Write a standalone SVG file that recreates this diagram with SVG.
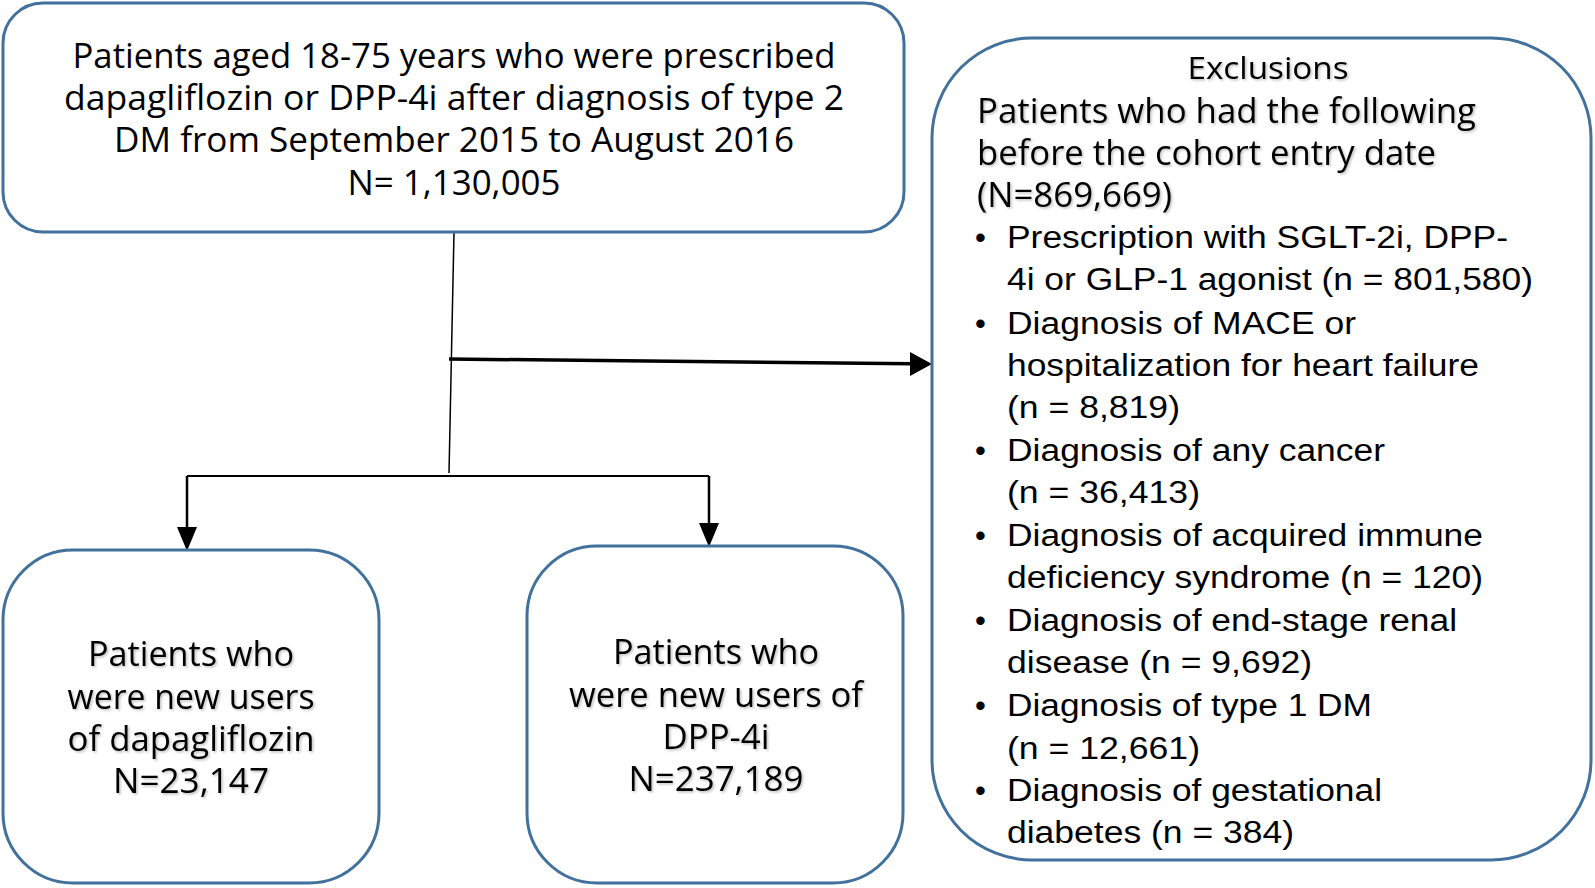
<svg xmlns="http://www.w3.org/2000/svg" width="1595" height="888" viewBox="0 0 1595 888">
<style>
.box{fill:#fff;stroke:#41719c;stroke-width:3}
.t{font-family:"Open Sans","Noto Sans",sans-serif;font-size:34px;fill:#000}
.b{font-family:"Liberation Sans",Arial,sans-serif;font-size:31px;fill:#000}
.c{text-anchor:middle}
.sh{filter:url(#shadow)}
.ln{stroke:#000;fill:none}
</style>
<defs>
<filter id="shadow" x="-5%" y="-20%" width="110%" height="140%">
<feDropShadow dx="1.5" dy="1.5" stdDeviation="1" flood-color="#000" flood-opacity="0.25"/>
</filter>
</defs>

<g id="connectors">
<line class="ln" x1="454" y1="232" x2="449" y2="473" stroke-width="1.5"/>
<line class="ln" x1="449" y1="359" x2="912" y2="363.8" stroke-width="3.5"/>
<path d="M910,352 L932,364 L910,376 z" fill="#000"/>
<line class="ln" x1="187" y1="476" x2="709" y2="476" stroke-width="2"/>
<path d="M187,476 V528" class="ln" stroke-width="2.5"/>
<path d="M177,527 L197,527 L187,551 z" fill="#000"/>
<path d="M709,476 V524" class="ln" stroke-width="2.5"/>
<path d="M699,523 L719,523 L709,547 z" fill="#000"/>
</g>

<g id="node-top">
<rect class="box" x="3" y="3" width="901" height="229" rx="40"/>
<text class="t c" x="454" y="68" textLength="763" lengthAdjust="spacingAndGlyphs">Patients aged 18-75 years who were prescribed</text>
<text class="t c" x="454" y="110" textLength="780" lengthAdjust="spacingAndGlyphs">dapagliflozin or DPP-4i after diagnosis of type 2</text>
<text class="t c" x="454" y="152" textLength="680" lengthAdjust="spacingAndGlyphs">DM from September 2015 to August 2016</text>
<text class="t c" x="454" y="195" textLength="213" lengthAdjust="spacingAndGlyphs">N= 1,130,005</text>
</g>

<g id="node-exclusions">
<rect class="box" x="932" y="38" width="659" height="822" rx="100"/>
<g class="sh">
<text class="t c" x="1268" y="79" style="font-size:31px" textLength="161" lengthAdjust="spacingAndGlyphs">Exclusions</text>
<text class="t" x="977" y="123" textLength="499" lengthAdjust="spacingAndGlyphs">Patients who had the following</text>
<text class="t" x="977" y="165" textLength="459" lengthAdjust="spacingAndGlyphs">before the cohort entry date</text>
<text class="t" x="977" y="207" textLength="195" lengthAdjust="spacingAndGlyphs">(N=869,669)</text>
</g>
<g class="b">
<text x="975" y="248">•</text><text x="1007" y="248" textLength="501" lengthAdjust="spacingAndGlyphs">Prescription with SGLT-2i, DPP-</text>
<text x="1007" y="290" textLength="526" lengthAdjust="spacingAndGlyphs">4i or GLP-1 agonist (n = 801,580)</text>
<text x="975" y="334">•</text><text x="1007" y="334" textLength="349" lengthAdjust="spacingAndGlyphs">Diagnosis of MACE or</text>
<text x="1007" y="376" textLength="472" lengthAdjust="spacingAndGlyphs">hospitalization for heart failure</text>
<text x="1007" y="418" textLength="173" lengthAdjust="spacingAndGlyphs">(n = 8,819)</text>
<text x="975" y="461">•</text><text x="1007" y="461" textLength="378" lengthAdjust="spacingAndGlyphs">Diagnosis of any cancer</text>
<text x="1007" y="503" textLength="193" lengthAdjust="spacingAndGlyphs">(n = 36,413)</text>
<text x="975" y="546">•</text><text x="1007" y="546" textLength="476" lengthAdjust="spacingAndGlyphs">Diagnosis of acquired immune</text>
<text x="1007" y="588" textLength="476" lengthAdjust="spacingAndGlyphs">deficiency syndrome (n = 120)</text>
<text x="975" y="631">•</text><text x="1007" y="631" textLength="450" lengthAdjust="spacingAndGlyphs">Diagnosis of end-stage renal</text>
<text x="1007" y="673" textLength="305" lengthAdjust="spacingAndGlyphs">disease (n = 9,692)</text>
<text x="975" y="716">•</text><text x="1007" y="716" textLength="365" lengthAdjust="spacingAndGlyphs">Diagnosis of type 1 DM</text>
<text x="1007" y="759" textLength="193" lengthAdjust="spacingAndGlyphs">(n = 12,661)</text>
<text x="975" y="801">•</text><text x="1007" y="801" textLength="375" lengthAdjust="spacingAndGlyphs">Diagnosis of gestational</text>
<text x="1007" y="843" textLength="287" lengthAdjust="spacingAndGlyphs">diabetes (n = 384)</text>
</g>
</g>

<g id="node-dapagliflozin">
<rect class="box" x="3" y="550" width="376" height="333" rx="70"/>
<g class="sh">
<text class="t c" x="191" y="666" textLength="206" lengthAdjust="spacingAndGlyphs">Patients who</text>
<text class="t c" x="191" y="709" textLength="247" lengthAdjust="spacingAndGlyphs">were new users</text>
<text class="t c" x="191" y="751" textLength="247" lengthAdjust="spacingAndGlyphs">of dapagliflozin</text>
<text class="t c" x="191" y="793" textLength="156" lengthAdjust="spacingAndGlyphs">N=23,147</text>
</g>
</g>

<g id="node-dpp4i">
<rect class="box" x="527" y="546" width="376" height="337" rx="70"/>
<g class="sh">
<text class="t c" x="716" y="664" textLength="206" lengthAdjust="spacingAndGlyphs">Patients who</text>
<text class="t c" x="716" y="707" textLength="294" lengthAdjust="spacingAndGlyphs">were new users of</text>
<text class="t c" x="716" y="749" textLength="107" lengthAdjust="spacingAndGlyphs">DPP-4i</text>
<text class="t c" x="716" y="791" textLength="175" lengthAdjust="spacingAndGlyphs">N=237,189</text>
</g>
</g>
</svg>
